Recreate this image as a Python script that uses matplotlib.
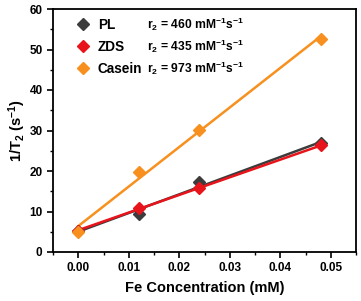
import matplotlib
matplotlib.use("Agg")
import matplotlib.pyplot as plt
import numpy as np
from matplotlib.ticker import MultipleLocator

plt.rcParams['font.family'] = ['Liberation Sans', 'DejaVu Sans']
plt.rcParams['font.weight'] = 'bold'
plt.rcParams['mathtext.fontset'] = 'custom'
plt.rcParams['mathtext.rm'] = 'Liberation Sans:bold'
plt.rcParams['mathtext.it'] = 'Liberation Sans:bold'
plt.rcParams['mathtext.bf'] = 'Liberation Sans:bold'

fe_conc = [0.0, 0.012, 0.024, 0.048]
series_names = ["PL", "ZDS", "Casein"]
pl_values = [5.2, 9.5, 17.3, 26.8]
zds_values = [5.3, 10.8, 15.7, 26.3]
casein_values = [5.0, 19.8, 30.1, 52.7]
r2_labels = ["460", "435", "973"]
colors = ["#3c3c3c", "#e8141c", "#f7901e"]

fig = plt.figure(figsize=(3.61, 3.01), dpi=100)
ax = fig.add_axes([53/361, 1-252/301, (356-53)/361, (252-9)/301])

x = np.array(fe_conc)
for vals, name, c in zip([pl_values, zds_values, casein_values], series_names, colors):
    y = np.array(vals)
    k, b = np.polyfit(x, y, 1)
    xf = np.array([x.min(), x.max()])
    ax.plot(xf, k*xf + b, color=c, lw=1.8, zorder=2)
    ax.plot(x, y, 'D', color=c, ms=6.3, mec=c, zorder=3, label=name)

ax.set_xlim(-0.005, 0.055)
ax.set_ylim(0, 60)
ax.xaxis.set_major_locator(MultipleLocator(0.01))
ax.xaxis.set_minor_locator(MultipleLocator(0.005))
ax.yaxis.set_major_locator(MultipleLocator(10))
ax.yaxis.set_minor_locator(MultipleLocator(5))
ax.set_xticks([0, 0.01, 0.02, 0.03, 0.04, 0.05])
ax.set_xticklabels(["0.00", "0.01", "0.02", "0.03", "0.04", "0.05"])
ax.tick_params(which='major', direction='out', length=4, width=1.2, labelsize=8.5)
ax.tick_params(which='minor', direction='out', length=2, width=1)
for s in ax.spines.values():
    s.set_linewidth(1.3)

ax.set_xlabel("Fe Concentration (mM)", fontsize=10.5, fontweight='bold', labelpad=5)
ax.set_ylabel(r"1/T$_2$ (s$^{-1}$)", fontsize=10.5, fontweight='bold', labelpad=1)

leg = ax.legend(loc='upper left', frameon=False, fontsize=9.8, handletextpad=0.5,
                borderaxespad=0.3, labelspacing=0.6, handlelength=1.2,
                bbox_to_anchor=(0.04, 1.004))
ylocs = [0.938, 0.848, 0.757]
for lab, yy in zip(r2_labels, ylocs):
    ax.text(0.31, yy, r"r$_2$ = " + lab + r" mM$^{-1}$s$^{-1}$", transform=ax.transAxes,
            fontsize=8.7, fontweight='bold', va='center')

fig.savefig("out.png", dpi=100)
